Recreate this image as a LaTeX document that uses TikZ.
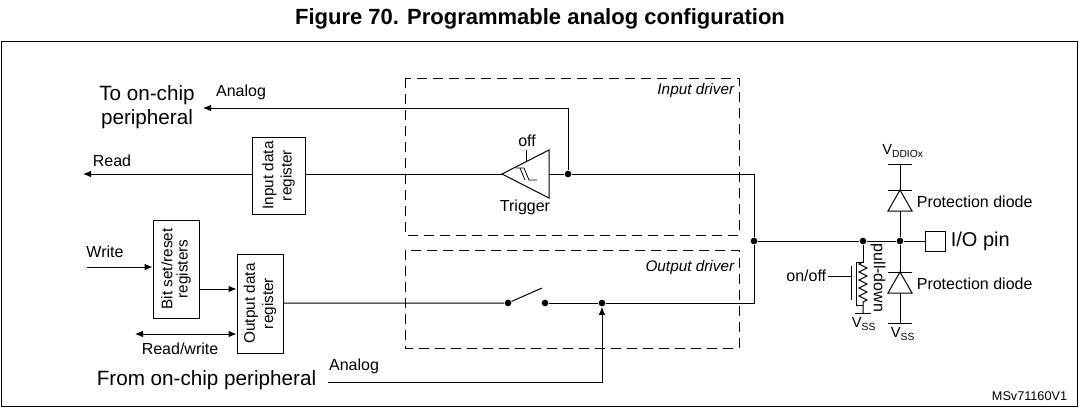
\documentclass[tikz,border=0pt]{standalone}
\usepackage{fontspec}
\setmainfont{Liberation Sans}
\usetikzlibrary{arrows.meta}
\begin{document}
\begin{tikzpicture}[x=0.75pt,y=-0.75pt,line width=0.75pt,
  lbl/.style={font=\fontsize{12}{13}\selectfont,inner sep=1pt},
  big/.style={font=\fontsize{15.5}{18}\selectfont,inner sep=1pt,align=center},
  box/.style={draw,line width=0.75pt,inner sep=1pt,align=center,font=\fontsize{11.5}{13}\selectfont},
  drv/.style={draw,dash pattern=on 7.5pt off 4.5pt,line width=0.75pt},
  arr/.style={-{Latex[length=6pt,width=5pt]}},
  dot/.style={circle,fill,inner sep=0pt,minimum size=5pt}]
\useasboundingbox (0,0) rectangle (1079,408);
\node[font=\bfseries\fontsize{16.5}{18}\selectfont] (title) at (540,19) {Figure 70. Programmable analog configuration};
\draw (1,41) rectangle (1077,406);
% driver boxes
\draw[drv] (405,78) rectangle (739,235);
\draw[drv] (405,250) rectangle (739,348);
\node[lbl,font=\itshape\fontsize{11.5}{12}\selectfont,anchor=north east] (idl) at (736,82) {Input driver};
\node[lbl,font=\itshape\fontsize{11.5}{12}\selectfont,anchor=north east] (odl) at (736,259) {Output driver};
% registers
\node[box,minimum width=39.75pt,minimum height=57.75pt] (ireg) at (278.5,175.5) {\rotatebox{90}{\shortstack{Input data\\register}}};
\node[box,minimum width=34.5pt,minimum height=73.5pt] (bsr) at (176,269) {\rotatebox{90}{\shortstack{Bit set/reset\\registers}}};
\node[box,minimum width=34.5pt,minimum height=74.25pt] (oreg) at (260,303.5) {\rotatebox{90}{\shortstack{Output data\\register}}};
% trigger
\coordinate (tip) at (502,174);
\coordinate (tt) at (549,150);
\coordinate (tb) at (549,198);
\draw (tip) -- (tt) -- (tb) -- cycle;
\draw[line width=0.6pt] (516,168) -- (524,168) -- (529,180) -- (537,180);
\draw[line width=0.6pt] (520,168) -- (525,180);
\coordinate (offs) at (526,162);
\draw (offs) -- (526,150);
\node[lbl] (off) at (527,141) {off};
\node[lbl] (trig) at (525,207) {Trigger};
% input path
\node[dot] (d1) at (568,174) {};
\node[dot] (dj) at (754,241) {};
\draw (tt |- tip) -- (d1) -- (754,174) -- (dj);
\draw (tip) -- (ireg.east |- tip);
\coordinate (rd) at (83,174);
\draw[arr] (ireg.west |- rd) -- (rd);
\node[lbl] (readl) at (112,161) {Read};
% analog out
\coordinate (aout) at (203,108);
\draw[arr] (d1) -- (568,108) -- (aout);
\node[lbl] (an1) at (241,92) {Analog};
\node[big] (toc) at (147,107) {To on-chip\\peripheral};
% write side
\coordinate (wr) at (87,267);
\draw[arr] (wr) -- (bsr.west |- wr);
\node[lbl] (wrl) at (105,252) {Write};
\draw[arr] (bsr.east |- 0,289) -- (oreg.west |- 0,289);
\coordinate (rw) at (135,334);
\draw[{Latex[length=6pt,width=5pt]}-{Latex[length=6pt,width=5pt]}] (rw) -- (oreg.west |- rw);
\node[lbl] (rwl) at (180,349) {Read/write};
% output path
\node[dot] (s1) at (508,303) {};
\node[dot] (s2) at (545,303) {};
\node[dot] (d3) at (602,303) {};
\draw (oreg.east |- s1) -- (s1) -- (542,288);
\draw (s2) -- (d3) -- (754,303) -- (dj);
\coordinate (ain) at (328,382);
\draw[arr] (ain) -- (602,382) -- (d3);
\node[lbl] (an2) at (354,366) {Analog};
\node[big,anchor=east] (fromc) at (318,380) {From on-chip peripheral};
% right side
\node[dot] (dp) at (863,241) {};
\node[dot] (dd) at (900,241) {};
\node[draw,minimum width=15pt,minimum height=15pt,inner sep=0pt] (pin) at (935,241) {};
\draw (dj) -- (dp) -- (dd) -- (pin);
\node[font=\fontsize{15}{16}\selectfont,anchor=west,inner sep=1pt] (pinl) at (949,241) {I/O pin};
% diodes
\draw (888,164) -- (912,164);
\draw (900,164) -- (900,190);
\draw (888,190) -- (912,190);
\draw (900,190) -- (888,211) -- (912,211) -- cycle;
\draw (900,211) -- (dd);
\draw (dd) -- (900,272);
\draw (888,272) -- (912,272);
\draw (900,272) -- (888,293) -- (912,293) -- cycle;
\draw (900,293) -- (900,323);
\draw (888,323) -- (912,323);
\node[lbl,font=\fontsize{11}{12}\selectfont] (vdd) at (903,151) {V\textsubscript{DDIOx}};
\node[lbl,font=\fontsize{11}{12}\selectfont] (vss2) at (903,334) {V\textsubscript{SS}};
\node[lbl,anchor=west] (pd1) at (915,202) {Protection diode};
\node[lbl,anchor=west] (pd2) at (915,284) {Protection diode};
% pull-down
\draw (dp) -- (863,262) -- (856,262) -- (856,305) -- (863,305);
\draw (863,262) -- (859,264) -- (867,268) -- (859,272) -- (867,276) -- (859,280) -- (867,284) -- (859,288) -- (867,292) -- (859,296) -- (867,300) -- (863,302) -- (863,313);
\draw (855,313) -- (871,313);
\draw (851,266) -- (851,300);
\coordinate (onoff) at (828,276);
\draw (onoff) -- (851,276);
\node[lbl,anchor=east] (onl) at (onoff) {on/off};
\node[lbl,rotate=-90] (pdl) at (878,278) {pull-down};
\node[lbl,font=\fontsize{11}{12}\selectfont] (vss1) at (864,324) {V\textsubscript{SS}};
\node[font=\fontsize{9.5}{10}\selectfont,anchor=east] (ms) at (1072,396) {MSv71160V1};
\end{tikzpicture}
\end{document}
